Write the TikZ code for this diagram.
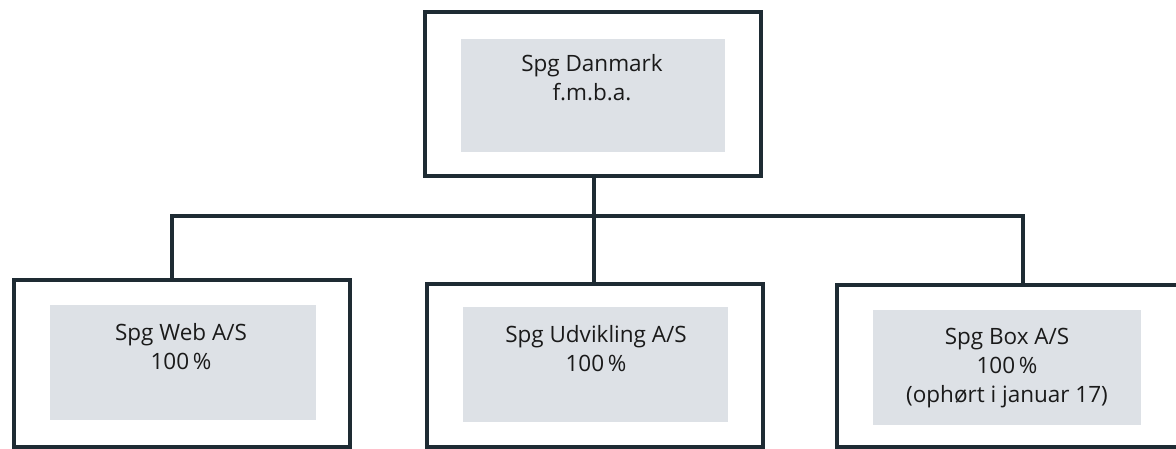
\documentclass[tikz,border=0pt]{standalone}
\usepackage{fontspec}
\setmainfont{Open Sans}
\definecolor{lineC}{HTML}{1E2B33}
\definecolor{fillC}{HTML}{DDE1E6}
\definecolor{textC}{HTML}{1A1A1A}
\begin{document}
\begin{tikzpicture}[x=1pt,y=-1pt,
  outer/.style={draw=lineC,line width=4pt,fill=white,inner sep=0pt,minimum width=#1},
  gray/.style={fill=fillC,inner sep=0pt},
  lbl/.style={text=textC,font=\fontsize{22.5}{29}\selectfont,align=center,inner sep=0pt,anchor=base},
  conn/.style={draw=lineC,line width=4pt}]
\useasboundingbox (0,0) rectangle (1176,448);
% outer boxes
\node[outer=336pt,minimum height=164pt] (top) at (593,94) {};
\node[outer=336pt,minimum height=167pt] (web) at (182,363.5) {};
\node[outer=336pt,minimum height=163pt] (udv) at (595,365.5) {};
\node[outer=341pt,minimum height=162pt] (box) at (1007.5,366) {};
% gray inner panels
\node[gray,minimum width=264pt,minimum height=113pt] (topg) at (593,95.5) {};
\node[gray,minimum width=266pt,minimum height=115pt] (webg) at (183,362.5) {};
\node[gray,minimum width=265pt,minimum height=115pt] (udvg) at (595.5,364.5) {};
\node[gray,minimum width=268pt,minimum height=115pt] (boxg) at (1007,367.5) {};
% texts (base anchor = last line baseline)
\node[lbl] (topt) at (592,100) {Spg Danmark\\f.m.b.a.};
\node[lbl] (webt) at (181,369) {Spg Web A/S\\100\,\%};
\node[lbl] (udvt) at (596,371) {Spg Udvikling A/S\\100\,\%};
\node[lbl] (boxt) at (1007,402) {Spg Box A/S\\100\,\%\\(ophørt i januar 17)};
% connectors
\coordinate (bus) at (594,216);
\coordinate (jl) at (172,216);
\coordinate (jr) at (1023,216);
\draw[conn] (top.south -| bus) -- (udv.north -| bus);
\draw[conn,line cap=rect] (jl) -- (jr);
\draw[conn] (jl) -- (jl |- web.north);
\draw[conn] (jr) -- (jr |- box.north);
\end{tikzpicture}
\end{document}
